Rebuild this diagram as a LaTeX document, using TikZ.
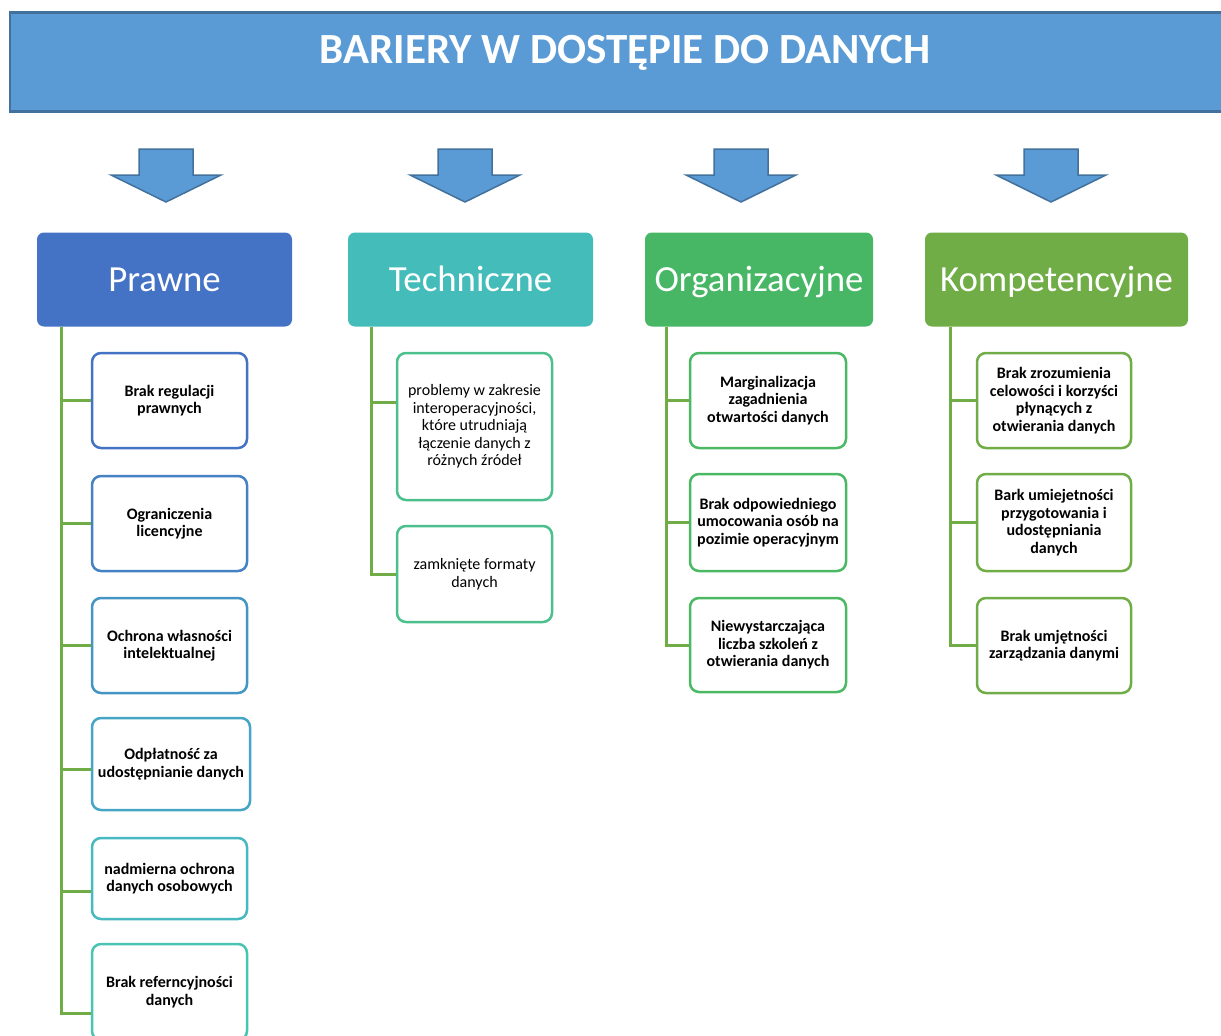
\documentclass[tikz,border=0pt]{standalone}
\usepackage{fontspec}
\setmainfont{Carlito}
\usepackage{tikz}
\usetikzlibrary{calc}

\definecolor{titleFill}{RGB}{91,155,213}
\definecolor{titleLine}{RGB}{65,113,156}
\definecolor{treeLine}{RGB}{112,173,71}

\tikzset{
  titlebox/.style={draw=titleLine, fill=titleFill, line width=2.5pt, minimum width=1230pt, minimum height=99pt, inner sep=0pt},
  titletext/.style={text=white, inner sep=0pt, text height=27pt, text depth=0pt, font=\bfseries\fontsize{43}{47}\selectfont},
  catbox/.style={rounded corners=7pt, inner sep=0pt, minimum height=94pt, text=white, text height=23pt, text depth=0pt, font=\fontsize{36.8}{40}\selectfont},
  itembox/.style={draw, fill=white, line width=2.5pt, rounded corners=9pt, inner sep=0pt, align=center, font=\bfseries\fontsize{16}{17.5}\selectfont},
  itemplain/.style={itembox, font=\fontsize{16}{17.5}\selectfont},
  treeline/.style={draw=treeLine, line width=3pt},
  blockarrow/.style={draw=titleLine, fill=titleFill, line width=1.5pt, line join=miter}
}

\begin{document}
\begin{tikzpicture}[x=1pt,y=-1pt]
\useasboundingbox (0,0) rectangle (1221,1036);
\clip (0,0) rectangle (1221,1036);
\node[titlebox] (title) at (625,62) {};
\node[titletext] (titleText) at ([yshift=12pt]title.center) {BARIERY W DOSTĘPIE DO DANYCH};
\foreach \cx in {166,465,741,1051}
  \draw[blockarrow] (\cx-27,149) -- (\cx+27,149) -- (\cx+27,175) -- (\cx+55,175) -- (\cx,202) -- (\cx-55,175) -- (\cx-27,175) -- cycle;

\definecolor{catPrawne}{RGB}{68,114,196}
\definecolor{catTech}{RGB}{68,189,186}
\definecolor{catOrg}{RGB}{72,183,101}
\definecolor{catKomp}{RGB}{112,173,71}
\node[catbox, fill=catPrawne, minimum width=255pt] (pr) at (164.5,279.5) {Prawne};
\node[catbox, fill=catTech, minimum width=245pt] (te) at (470.5,279.5) {Techniczne};
\node[catbox, fill=catOrg, minimum width=228pt] (or) at (759,279.5) {Organizacyjne};
\node[catbox, fill=catKomp, minimum width=263pt] (ko) at (1056.5,279.5) {Kompetencyjne};
\coordinate (prT) at ($(pr.south west)+(25,0)$);
\coordinate (teT) at ($(te.south west)+(24,0)$);
\coordinate (orT) at ($(or.south west)+(22,0)$);
\coordinate (koT) at ($(ko.south west)+(26,0)$);

\definecolor{pb1}{RGB}{68,114,196}
\definecolor{pb2}{RGB}{68,130,196}
\definecolor{pb3}{RGB}{68,148,196}
\definecolor{pb4}{RGB}{70,165,196}
\definecolor{pb5}{RGB}{72,185,192}
\definecolor{pb6}{RGB}{72,196,176}
\node[itembox, draw=pb1, minimum width=155pt, minimum height=95pt] (p1) at (169.5,400.5) {Brak regulacji\\prawnych};
\node[itembox, draw=pb2, minimum width=155pt, minimum height=95pt] (p2) at (169.5,523.5) {Ograniczenia\\licencyjne};
\node[itembox, draw=pb3, minimum width=155pt, minimum height=95pt] (p3) at (169.5,645.5) {Ochrona własności\\intelektualnej};
\node[itembox, draw=pb4, minimum width=158pt, minimum height=92pt] (p4) at (171,764) {Odpłatność za\\udostępnianie danych};
\node[itembox, draw=pb5, minimum width=155pt, minimum height=81pt] (p5) at (169.5,878.5) {nadmierna ochrona\\danych osobowych};
\node[itembox, draw=pb6, minimum width=155pt, minimum height=96pt] (p6) at (169.5,992) {Brak referncyjności\\danych};
\foreach \b/\dy in {p1/0,p2/0,p3/0,p4/-5,p5/-13,p6/-21}
  \draw[treeline] (prT) |- ([yshift=\dy pt]\b.west);

\definecolor{tb}{RGB}{75,192,140}
\node[itemplain, draw=tb, minimum width=155pt, minimum height=147pt] (t1) at (474.5,426.5) {problemy w zakresie\\interoperacyjności,\\które utrudniają\\łączenie danych z\\różnych źródeł};
\node[itemplain, draw=tb, minimum width=155pt, minimum height=96pt] (t2) at (474.5,574) {zamknięte formaty\\danych};
\foreach \b/\dy in {t1/24.5,t2/0}
  \draw[treeline] (teT) |- ([yshift=\dy pt]\b.west);

\definecolor{ob}{RGB}{75,185,100}
\node[itembox, draw=ob, minimum width=156pt, minimum height=95pt] (o1) at (768,400.5) {Marginalizacja\\zagadnienia\\otwartości danych};
\node[itembox, draw=ob, minimum width=156pt, minimum height=97pt] (o2) at (768,522.5) {Brak odpowiedniego\\umocowania osób na\\pozimie operacyjnym};
\node[itembox, draw=ob, minimum width=156pt, minimum height=94pt] (o3) at (768,645) {Niewystarczająca\\liczba szkoleń z\\otwierania danych};
\foreach \b in {o1,o2,o3}
  \draw[treeline] (orT) |- (\b.west);

\definecolor{kb}{RGB}{112,173,71}
\node[itembox, draw=kb, minimum width=154pt, minimum height=95pt] (k1) at (1054,400.5) {Brak zrozumienia\\celowości i korzyści\\płynących z\\otwierania danych};
\node[itembox, draw=kb, minimum width=154pt, minimum height=97pt] (k2) at (1054,522.5) {Bark umiejetności\\przygotowania i\\udostępniania\\danych};
\node[itembox, draw=kb, minimum width=154pt, minimum height=95pt] (k3) at (1054,645.5) {Brak umjętności\\zarządzania danymi};
\foreach \b in {k1,k2,k3}
  \draw[treeline] (koT) |- (\b.west);
\end{tikzpicture}
\end{document}
